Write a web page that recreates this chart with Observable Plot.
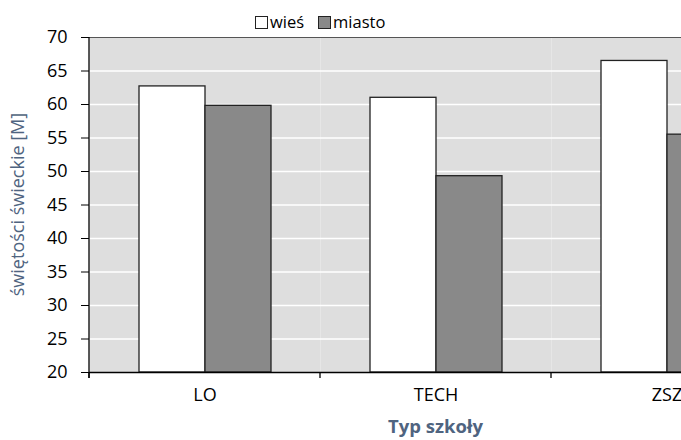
<!DOCTYPE html>
<html>
<head>
<meta charset="utf-8">
<script src="https://cdn.jsdelivr.net/npm/d3@7"></script>
<script src="https://cdn.jsdelivr.net/npm/@observablehq/plot@0.6"></script>
<style>
  html, body { margin: 0; padding: 0; background: #fff; overflow: hidden; width: 681px; height: 440px; }
  #wrap { position: relative; width: 681px; height: 440px; overflow: hidden; }
  #legend { position: absolute; top: 12px; left: 255px; font-family: "Open Sans", sans-serif; font-size: 16.5px; color: #000; display: flex; align-items: center; white-space: nowrap; line-height: 20px; }
  #legend .sw { display: inline-block; width: 11px; height: 11px; border: 1px solid #222; margin-right: 2px; }
  #legend .item { display: flex; align-items: center; margin-right: 14px; }
  #chart { position: absolute; top: 0; left: 0; width: 800px; }
  #chart svg { max-width: none !important; width: 800px !important; height: 440px !important; }
</style>
</head>
<body>
<div id="wrap">
  <div id="chart"></div>
  <div id="legend"></div>
</div>
<script>
const categories = ["LO", "TECH", "ZSZ"];
const series = ["wieś", "miasto"];
const wiesValues = [62.7, 61.0, 66.5];
const miastoValues = [59.8, 49.3, 55.5];
const yTicks = [20, 25, 30, 35, 40, 45, 50, 55, 60, 65, 70];
const seriesColors = ["#ffffff", "#898989"];
const xTitle = "Typ szkoły";
const yTitle = "świętości świeckie [M]";

const data = [];
categories.forEach((c, i) => {
  data.push({category: c, series: series[0], value: wiesValues[i]});
  data.push({category: c, series: series[1], value: miastoValues[i]});
});

const font = "'Open Sans', sans-serif";

const plot = Plot.plot({
  width: 800,
  height: 440,
  marginLeft: 88,
  marginRight: 18,
  marginTop: 37,
  marginBottom: 68,
  style: {fontFamily: font, fontSize: "18px", color: "#000", background: "transparent", maxWidth: "none"},
  fx: {domain: categories, padding: 0, label: null, axis: "bottom", tickSize: 0, tickPadding: 16},
  x: {domain: series, paddingInner: 0, paddingOuter: 0.74, axis: null},
  y: {domain: [20, 70], ticks: yTicks, tickSize: 8, tickPadding: 14, label: null},
  color: {domain: series, range: seriesColors},
  marks: [
    Plot.frame({fill: "#dedede", stroke: null}),
    Plot.ruleY(yTicks.filter(t => t > 20 && t < 70), {stroke: "#ffffff", strokeWidth: 1.5}),
    Plot.ruleY([70], {stroke: "#555", strokeWidth: 1.2}),
    Plot.barY(data, {fx: "category", x: "series", y1: 20, y2: "value", fill: "series", stroke: "#222", strokeWidth: 1.3}),
    Plot.ruleY([20], {stroke: "#000", strokeWidth: 1.3})
  ]
});

document.getElementById("chart").appendChild(plot);

// Extra axis details via the plot's own scales
const svg = d3.select(plot);
const fx = plot.scale("fx");
const y = plot.scale("y");
const x0 = fx.apply(categories[0]);
const x1 = fx.apply(categories[categories.length - 1]) + fx.bandwidth;
const yb = y.apply(20), yt = y.apply(70);
const g = svg.append("g");
g.append("line").attr("x1", x0).attr("x2", x0).attr("y1", yt).attr("y2", yb + 6)
  .attr("stroke", "#000").attr("stroke-width", 1.3);
categories.forEach(c => {
  const xx = fx.apply(c);
  g.append("line").attr("x1", xx).attr("x2", xx).attr("y1", yb).attr("y2", yb + 6)
    .attr("stroke", "#000").attr("stroke-width", 1.3);
});
g.append("line").attr("x1", x1).attr("x2", x1).attr("y1", yb).attr("y2", yb + 6)
  .attr("stroke", "#000").attr("stroke-width", 1.3);
g.append("text").attr("x", (x0 + x1) / 2).attr("y", 433)
  .attr("text-anchor", "middle").attr("font-family", font).attr("font-weight", "bold")
  .attr("font-size", 18.5).attr("fill", "#4f6480").text(xTitle);
g.append("text").attr("transform", `translate(24,${(yt + yb) / 2}) rotate(-90)`)
  .attr("text-anchor", "middle").attr("font-family", font)
  .attr("font-size", 18).attr("fill", "#4f6480").text(yTitle);

// Legend
const legend = document.getElementById("legend");
series.forEach((s, i) => {
  const item = document.createElement("span");
  item.className = "item";
  const sw = document.createElement("span");
  sw.className = "sw";
  sw.style.background = seriesColors[i];
  item.appendChild(sw);
  item.appendChild(document.createTextNode(s));
  legend.appendChild(item);
});
</script>
</body>
</html>
